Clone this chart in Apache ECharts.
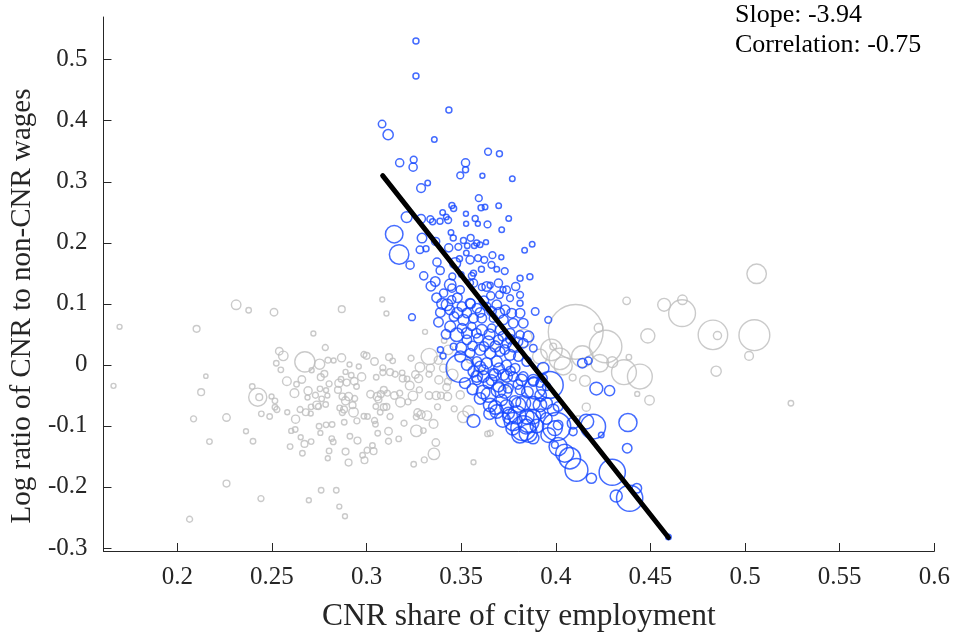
<!DOCTYPE html>
<html>
<head>
<meta charset="utf-8">
<script src="https://cdn.jsdelivr.net/npm/echarts@6/dist/echarts.min.js"></script>
<style>
html,body{margin:0;padding:0;background:#fff;}
#chart{width:953px;height:639px;}
</style>
</head>
<body>
<div id="chart"></div>
<script>
// [CNR share of city employment, log ratio CNR/non-CNR wages, city employment weight]
const otherCities = [
[0.2311,0.0984,16],[0.2377,0.0896,4],[0.2511,0.0863,9],[0.2869,0.0913,7],[0.3083,0.1071,3],[0.3105,0.0842,3],[0.2102,0.0590,7],[0.2719,0.0514,3],[0.3309,0.0541,3],[0.3410,0.0399,4],
[0.2782,0.0284,5],[0.2539,0.0224,9],[0.2560,0.0148,16],[0.2674,0.0049,87],[0.2151,-0.0186,2],[0.2126,-0.0448,7],[0.2425,-0.0530,69],[0.2433,-0.0530,7],[0.2086,-0.0885,5],[0.2260,-0.0863,9],
[0.2363,-0.1087,3],[0.2170,-0.1257,4],[0.2400,-0.1251,4],[0.2260,-0.1945,7],[0.2442,-0.2191,5],[0.2065,-0.2530,5],[0.2695,-0.2218,3],[0.2760,-0.2055,4],[0.2840,-0.2055,4],[0.2856,-0.2322,3],
[0.2886,-0.2481,3],[0.2905,-0.1601,7],[0.2989,-0.1563,7],[0.3249,-0.1628,4],[0.3305,-0.1557,5],[0.3356,-0.1459,25],[0.3366,-0.1273,9],[0.3263,-0.1082,25],[0.3354,-0.0967,13],[0.3319,-0.0831,16],
[0.3198,-0.0956,5],[0.3116,-0.1087,9],[0.3116,-0.1251,5],[0.3170,-0.1213,4],[0.3059,-0.1120,4],[0.3037,-0.1415,7],[0.3003,-0.1399,5],[0.2979,-0.1481,4],[0.3031,-0.1322,4],[0.2889,-0.1421,7],
[0.2802,-0.1410,4],[0.2795,-0.1530,3],[0.2952,-0.1240,7],[0.2912,-0.1169,4],[0.2824,-0.1262,4],[0.2816,-0.1208,4],[0.2661,-0.1448,4],[0.2672,-0.1295,7],[0.2707,-0.1257,4],[0.2652,-0.1186,3],
[0.2596,-0.1339,4],[0.2602,-0.1082,3],[0.2623,-0.1060,4],[0.2756,-0.1115,3],[0.2749,-0.1005,4],[0.2786,-0.0983,4],[0.2818,-0.0978,4],[0.2625,-0.0891,11],[0.2679,-0.0776,7],[0.2649,-0.0732,5],
[0.2705,-0.0798,3],[0.2581,-0.0776,3],[0.2526,-0.0732,5],[0.2516,-0.0694,4],[0.2488,-0.0847,4],[0.2444,-0.0803,4],[0.2498,-0.0519,3],[0.2516,-0.0590,4],[0.2396,-0.0355,4],[0.2579,-0.0268,13],
[0.2619,-0.0464,13],[0.2658,-0.0240,9],[0.2630,-0.0317,4],[0.2523,0.0027,4],[0.2547,-0.0082,4],[0.2752,0.0011,19],[0.2710,-0.0088,3],[0.2758,-0.0202,7],[0.2777,-0.0147,7],[0.2796,0.0077,5],
[0.2826,0.0071,3],[0.2868,0.0115,11],[0.2786,-0.0415,3],[0.2793,-0.0503,3],[0.2754,-0.0393,4],[0.2802,-0.0311,5],[0.2854,-0.0301,11],[0.2865,-0.0235,4],[0.2889,-0.0115,3],[0.2910,0.0006,3],
[0.2959,-0.0027,3],[0.2986,0.0169,5],[0.3000,0.0148,7],[0.3042,0.0055,9],[0.3086,-0.0049,5],[0.3119,0.0126,7],[0.3138,0.0066,4],[0.3235,0.0109,5],[0.2849,-0.0410,7],[0.2895,-0.0290,7],
[0.2935,-0.0268,9],[0.2947,-0.0355,4],[0.2974,-0.0197,11],[0.2919,-0.0169,4],[0.2873,-0.0519,7],[0.2905,-0.0519,11],[0.2889,-0.0590,11],[0.2926,-0.0661,7],[0.2937,-0.0552,5],[0.2688,-0.0535,3],
[0.2691,-0.0426,11],[0.2730,-0.0497,5],[0.2737,-0.0661,11],[0.2707,-0.0688,4],[0.2746,-0.0683,5],[0.2763,-0.0557,4],[0.2784,-0.0650,4],[0.2858,-0.0705,4],[0.2881,-0.0732,7],[0.2872,-0.0781,5],
[0.2931,-0.0776,16],[0.2949,-0.0918,5],[0.2986,-0.0841,4],[0.3005,-0.0847,4],[0.2882,-0.0940,4],[0.3021,-0.0481,9],[0.3056,-0.0519,11],[0.3063,-0.0568,7],[0.3075,-0.0481,7],[0.3091,-0.0410,7],
[0.3110,-0.0464,5],[0.3049,-0.0683,4],[0.3072,-0.0776,4],[0.3091,-0.0694,7],[0.3105,-0.0688,7],[0.3042,-0.0912,5],[0.3047,-0.0972,4],[0.3124,-0.0847,5],[0.3051,-0.0202,4],[0.3086,-0.0126,5],
[0.3124,-0.0120,7],[0.3151,-0.0153,5],[0.3188,-0.0131,4],[0.3191,-0.0224,7],[0.3214,-0.0230,4],[0.3258,-0.0158,9],[0.3147,-0.0503,9],[0.3179,-0.0612,16],[0.3175,-0.0464,5],[0.3219,-0.0607,5],
[0.3245,-0.0508,16],[0.3279,-0.0410,5],[0.3228,-0.0339,13],[0.3275,-0.0224,11],[0.3282,-0.0038,16],[0.3331,0.0137,54],[0.3379,0.0077,11],[0.3337,-0.0055,11],[0.3382,-0.0246,11],[0.3330,-0.0153,5],
[0.3407,-0.0055,11],[0.3270,-0.0781,9],[0.3288,-0.0814,11],[0.3263,-0.0852,5],[0.3300,-0.1077,4],[0.3368,-0.0503,11],[0.3393,-0.0503,7],[0.3330,-0.0503,9],[0.3375,-0.0688,5],[0.3428,-0.0519,11],
[0.3423,-0.0366,9],[0.3430,-0.0273,7],[0.1695,0.0623,3],[0.1663,-0.0344,3],
[0.5061,0.1492,81],[0.4374,0.1049,9],[0.4572,0.0984,32],[0.4669,0.1066,16],[0.4667,0.0847,160],[0.4830,0.0492,196],[0.4854,0.0481,11],[0.5049,0.0486,215],[0.5021,0.0147,13],[0.4847,-0.0104,19],
[0.5242,-0.0628,4],[0.4486,0.0475,40],[0.4105,0.0541,711],[0.4226,0.0606,13],[0.4263,0.0300,240],[0.4360,-0.0120,136],[0.4444,-0.0191,136],[0.4386,0.0126,4],[0.4298,0.0044,22],[0.4140,0.0137,100],
[0.4021,0.0098,100],[0.3977,0.0246,100],[0.4039,-0.0017,69],[0.3986,0.0300,7],[0.3916,0.0137,44],[0.4154,-0.0263,22],[0.4089,-0.0208,7],[0.4430,-0.0476,3],[0.4495,-0.0579,16],[0.4161,-0.0694,11],
[0.4232,0.0027,64],[0.3828,0.0437,69],[0.4118,-0.0874,3],[0.3565,-0.1596,3],[0.3653,-0.1120,5],[0.3639,-0.1131,4],[0.3539,-0.0765,25],[0.3463,-0.0721,5],[0.3511,-0.0852,25],
[0.3547,0.0082,7],[0.3600,-0.0115,4],[0.3495,-0.0492,11],[0.3679,0.0328,11],[0.3732,-0.0328,7],[0.3432,0.0246,16],[0.3453,-0.0164,25]
];

const highlightedCities = [
[0.3261,0.5306,5],[0.3261,0.4732,5],[0.3435,0.4175,5],[0.3082,0.3945,9],[0.3114,0.3771,19],[0.3358,0.3694,4],[0.3175,0.3311,11],[0.3249,0.3361,7],[0.3246,0.3240,11],[0.3523,0.3311,11],
[0.3523,0.3197,5],[0.3495,0.3104,7],[0.3642,0.3492,7],[0.3702,0.3459,5],[0.3612,0.3098,3],[0.3770,0.3049,4],[0.3323,0.2978,4],[0.3288,0.2896,13],[0.3212,0.2421,22],[0.3146,0.2142,64],
[0.3172,0.1809,81],[0.3230,0.1634,11],[0.3293,0.2077,16],[0.3282,0.1885,9],[0.3314,0.1902,5],[0.3337,0.2388,7],[0.3349,0.2344,5],[0.3388,0.2355,5],[0.3402,0.2497,4],[0.3431,0.2372,7],
[0.3421,0.2421,4],[0.3451,0.2612,5],[0.3460,0.2563,5],[0.3593,0.2732,7],[0.3605,0.2574,5],[0.3626,0.2585,4],[0.3698,0.2607,4],[0.3525,0.2475,3],[0.3574,0.2399,5],[0.3639,0.2301,7],
[0.3526,0.2311,3],[0.3588,0.2311,3],[0.3751,0.2399,4],[0.3714,0.2213,4],[0.3875,0.1978,4],[0.3835,0.1880,4],[0.3863,0.1443,5],[0.3811,0.1421,5],[0.3446,0.2169,4],[0.3458,0.2077,5],
[0.3288,0.2393,13],[0.3365,0.2022,11],[0.3434,0.1918,11],[0.3512,0.2038,5],[0.3550,0.2082,7],[0.3582,0.1995,5],[0.3600,0.1967,4],[0.3631,0.2011,3],[0.3569,0.1951,4],[0.3532,0.1951,4],
[0.3485,0.1934,7],[0.3527,0.1831,4],[0.3491,0.1738,5],[0.3547,0.1721,11],[0.3589,0.1749,7],[0.3622,0.1721,7],[0.3665,0.1798,7],[0.3712,0.1765,3],[0.3660,0.1639,7],[0.3688,0.1568,4],
[0.3730,0.1536,7],[0.3607,0.1568,5],[0.3565,0.1503,5],[0.3500,0.1481,4],[0.3453,0.1448,7],[0.3372,0.1683,11],[0.3389,0.1546,11],[0.3302,0.1459,11],
[0.3363,0.1366,16],[0.3451,0.1257,11],[0.3468,0.1667,22],[0.3556,0.1459,7],[0.3788,0.1284,11],[0.3721,0.1230,5],[0.3547,0.1344,7],[0.3609,0.1273,7],[0.3653,0.1306,5],
[0.3442,0.1311,25],[0.3407,0.1175,11],[0.3495,0.1229,11],[0.3565,0.1339,11],[0.3635,0.1284,16],[0.3697,0.1339,11],[0.3740,0.1229,9],
[0.3656,0.1131,11],[0.3702,0.1147,9],[0.3758,0.1093,7],[0.3811,0.1011,5],[0.3811,0.1147,7],[0.3891,0.0874,9],[0.3960,0.0738,7],[0.3425,0.0983,25],[0.3450,0.1066,11],[0.3504,0.0956,16],
[0.3547,0.1011,16],[0.3583,0.0929,16],[0.3635,0.0956,11],[0.3688,0.0983,16],[0.3732,0.0902,16],[0.3767,0.0847,16],[0.3811,0.0847,16],[0.3828,0.0683,16],[0.3775,0.0683,16],[0.3723,0.0738,16],
[0.3670,0.0765,11],[0.3609,0.0765,16],[0.3565,0.0765,16],[0.3512,0.0738,22],[0.3462,0.0792,16],[0.3442,0.0628,22],[0.3504,0.0601,16],[0.3556,0.0628,11],[0.3609,0.0574,22],[0.3661,0.0601,11],
[0.3705,0.0574,16],[0.3758,0.0519,16],[0.3811,0.0492,11],[0.3855,0.0464,22],[0.3828,0.0355,16],[0.3477,0.0492,36],[0.3530,0.0410,16],[0.3591,0.0437,16],[0.3644,0.0382,22],[0.3697,0.0410,16],
[0.3740,0.0355,16],[0.3775,0.0300,22],[0.3460,0.0300,7],[0.3390,0.0246,5],[0.3404,0.0147,5],[0.3240,0.0781,7],[0.3495,0.0137,22],[0.3547,0.0191,16],[0.3600,0.0246,22],[0.3653,0.0191,22],
[0.3705,0.0218,16],[0.3758,0.0164,22],[0.3802,0.0137,16],[0.3846,0.0055,16],[0.3881,0.0273,9],[0.3583,0.0055,16],[0.3635,0.0027,22],[0.3688,0.0055,22],[0.3740,0.0000,16],[0.3785,-0.0055,16],
[0.3565,-0.0109,22],[0.3618,-0.0082,16],[0.3670,-0.0137,16],[0.3723,-0.0164,22],[0.3775,-0.0191,16],[0.3828,-0.0191,16],[0.3881,-0.0246,22],[0.3583,-0.0246,16],[0.3644,-0.0301,22],[0.3697,-0.0355,22],
[0.3749,-0.0383,16],[0.3811,-0.0410,16],[0.3951,-0.0355,11],[0.3933,-0.0219,11],
[0.4140,0.0027,16],[0.4172,0.0066,9],[0.4214,-0.0388,32],[0.4284,-0.0421,19],[0.3933,-0.0055,25],[0.3565,-0.0918,32],[0.3495,-0.0055,178],[0.3616,-0.0443,36],
[0.3688,-0.0765,36],[0.3749,-0.0792,28],[0.3802,-0.0656,44],[0.3775,-0.0929,69],[0.3846,-0.0847,44],
[0.3968,-0.0328,160],[0.4381,-0.0945,69],[0.4377,-0.1366,16],[0.4197,-0.1011,136],[0.4161,-0.0929,44],[0.4091,-0.0956,25],[0.4091,-0.1093,11],[0.4240,-0.1148,4],[0.4004,-0.1011,178],[0.3995,-0.1038,44],
[0.4012,-0.0984,16],[0.4012,-0.1339,69],[0.4047,-0.1448,69],[0.4074,-0.1530,100],[0.4109,-0.1721,114],[0.4188,-0.1858,19],[0.4298,-0.1760,152],[0.4319,-0.2148,28],[0.4390,-0.2186,152],[0.4428,-0.2022,16],
[0.3995,-0.1312,7],[0.3828,-0.1038,136],[0.3842,-0.1011,44],[0.3854,-0.0929,100],[0.3881,-0.0847,44],[0.3793,-0.0820,69],[0.3758,-0.0847,44],[0.3740,-0.0683,36],[0.3784,-0.0601,25],[0.3828,-0.0628,44],
[0.3881,-0.0628,36],[0.3916,-0.0656,36],[0.3951,-0.0628,25],[0.3986,-0.0738,25],[0.4012,-0.0683,16],[0.3890,-0.0383,100],[0.3881,-0.0273,16],[0.3916,-0.0301,11],[0.3653,-0.0656,36],[0.3644,-0.0492,44],
[0.3697,-0.0410,44],[0.3732,-0.0437,36],[0.3714,-0.0574,25],[0.3582,-0.0191,25],[0.3617,-0.0191,25],[0.3679,-0.0164,25],[0.3740,-0.0191,25],[0.3819,-0.0246,25],[0.3854,-0.1120,69],[0.3810,-0.1148,54],
[0.3772,-0.1038,36],[0.4595,-0.2820,4],
[0.3340,0.1290,16],[0.3370,0.1100,16],[0.3400,0.1000,22],[0.3390,0.0860,16],[0.3440,0.0900,16],[0.3480,0.0850,22],[0.3530,0.0850,16],[0.3600,0.0860,16],[0.3660,0.0880,16],[0.3700,0.0850,22],
[0.3380,0.0700,16],[0.3420,0.0500,16],[0.3530,0.0520,22],[0.3580,0.0520,16],[0.3650,0.0500,22],[0.3720,0.0470,16],[0.3760,0.0420,16],[0.3800,0.0380,16],[0.3500,0.0280,22],[0.3560,0.0310,16],
[0.3620,0.0300,16],[0.3680,0.0300,22],[0.3730,0.0250,16],[0.3530,0.0000,22],[0.3600,-0.0030,22],[0.3700,-0.0060,22],[0.3760,-0.0100,16],[0.3520,-0.0300,22],[0.3560,-0.0400,22],[0.3600,-0.0550,25],
[0.3660,-0.0250,22],[0.3800,-0.0320,16],[0.3850,-0.0450,25],[0.3920,-0.0500,25],[0.3680,-0.0700,36],[0.3720,-0.0900,44],[0.3650,-0.0800,25],[0.3900,-0.1000,36],[0.3950,-0.0880,25],[0.3960,-0.1150,44],
[0.3880,-0.1200,25],[0.3920,-0.0800,16],[0.3550,0.1000,16],[0.3620,0.1050,16],[0.3480,0.1100,16]
];

// fitted line endpoints (share, log ratio)
const fitShare = [0.3085, 0.4595];
const fitLogRatio = [0.310, -0.283];

const xTickValues = [0.2, 0.25, 0.3, 0.35, 0.4, 0.45, 0.5, 0.55, 0.6];
const yTickValues = [-0.3, -0.2, -0.1, 0, 0.1, 0.2, 0.3, 0.4, 0.5];
const statsText = ['Slope: -3.94', 'Correlation: -0.75'];

const SERIF = '"Liberation Serif", "Times New Roman", serif';
const AX = '#262626';
const sizeFn = v => 2 * Math.sqrt(v[2]) + 1.5;

const chart = echarts.init(document.getElementById('chart'), null, {renderer: 'canvas'});
chart.setOption({
  animation: false,
  backgroundColor: '#ffffff',
  grid: {left: 102, right: 17, top: 17, bottom: 88},
  xAxis: {
    type: 'value', min: 0.161, max: 0.6,
    name: 'CNR share of city employment', nameLocation: 'middle', nameGap: 50,
    nameTextStyle: {fontFamily: SERIF, fontSize: 31.5, color: AX},
    axisLine: {show: true, onZero: false, lineStyle: {color: AX, width: 1}},
    axisTick: {show: true, inside: true, length: 8, customValues: xTickValues, lineStyle: {color: AX}},
    axisLabel: {customValues: xTickValues, fontFamily: SERIF, fontSize: 25, color: AX, margin: 14},
    splitLine: {show: false}
  },
  yAxis: {
    type: 'value', min: -0.305, max: 0.57,
    name: 'Log ratio of CNR to non-CNR wages', nameLocation: 'middle', nameGap: 58, nameRotate: 90,
    nameTextStyle: {fontFamily: SERIF, fontSize: 29, color: AX, padding: [0, 44, 0, 0]},
    axisLine: {show: true, onZero: false, lineStyle: {color: AX, width: 1}},
    axisTick: {show: true, inside: true, length: 8, customValues: yTickValues, lineStyle: {color: AX}},
    axisLabel: {customValues: yTickValues, fontFamily: SERIF, fontSize: 25, color: AX, margin: 16},
    splitLine: {show: false}
  },
  graphic: [
    {type: 'text', left: 735, top: 2, style: {text: statsText[0], font: '26px ' + SERIF, fill: '#000'}},
    {type: 'text', left: 735, top: 32, style: {text: statsText[1], font: '26px ' + SERIF, fill: '#000'}}
  ],
  series: [
    {
      type: 'scatter', data: otherCities, symbol: 'circle', symbolSize: sizeFn,
      itemStyle: {color: 'rgba(0,0,0,0)', borderColor: '#bdbdbd', borderWidth: 1.4},
      z: 2
    },
    {
      type: 'scatter', data: highlightedCities, symbol: 'circle', symbolSize: sizeFn,
      itemStyle: {color: 'rgba(0,0,0,0)', borderColor: '#1446ff', borderWidth: 1.5},
      z: 3
    },
    {
      type: 'line', data: fitShare.map((s, i) => [s, fitLogRatio[i]]),
      symbol: 'none', lineStyle: {color: '#000', width: 5, cap: 'round'},
      z: 4
    }
  ]
});
</script>
</body>
</html>
